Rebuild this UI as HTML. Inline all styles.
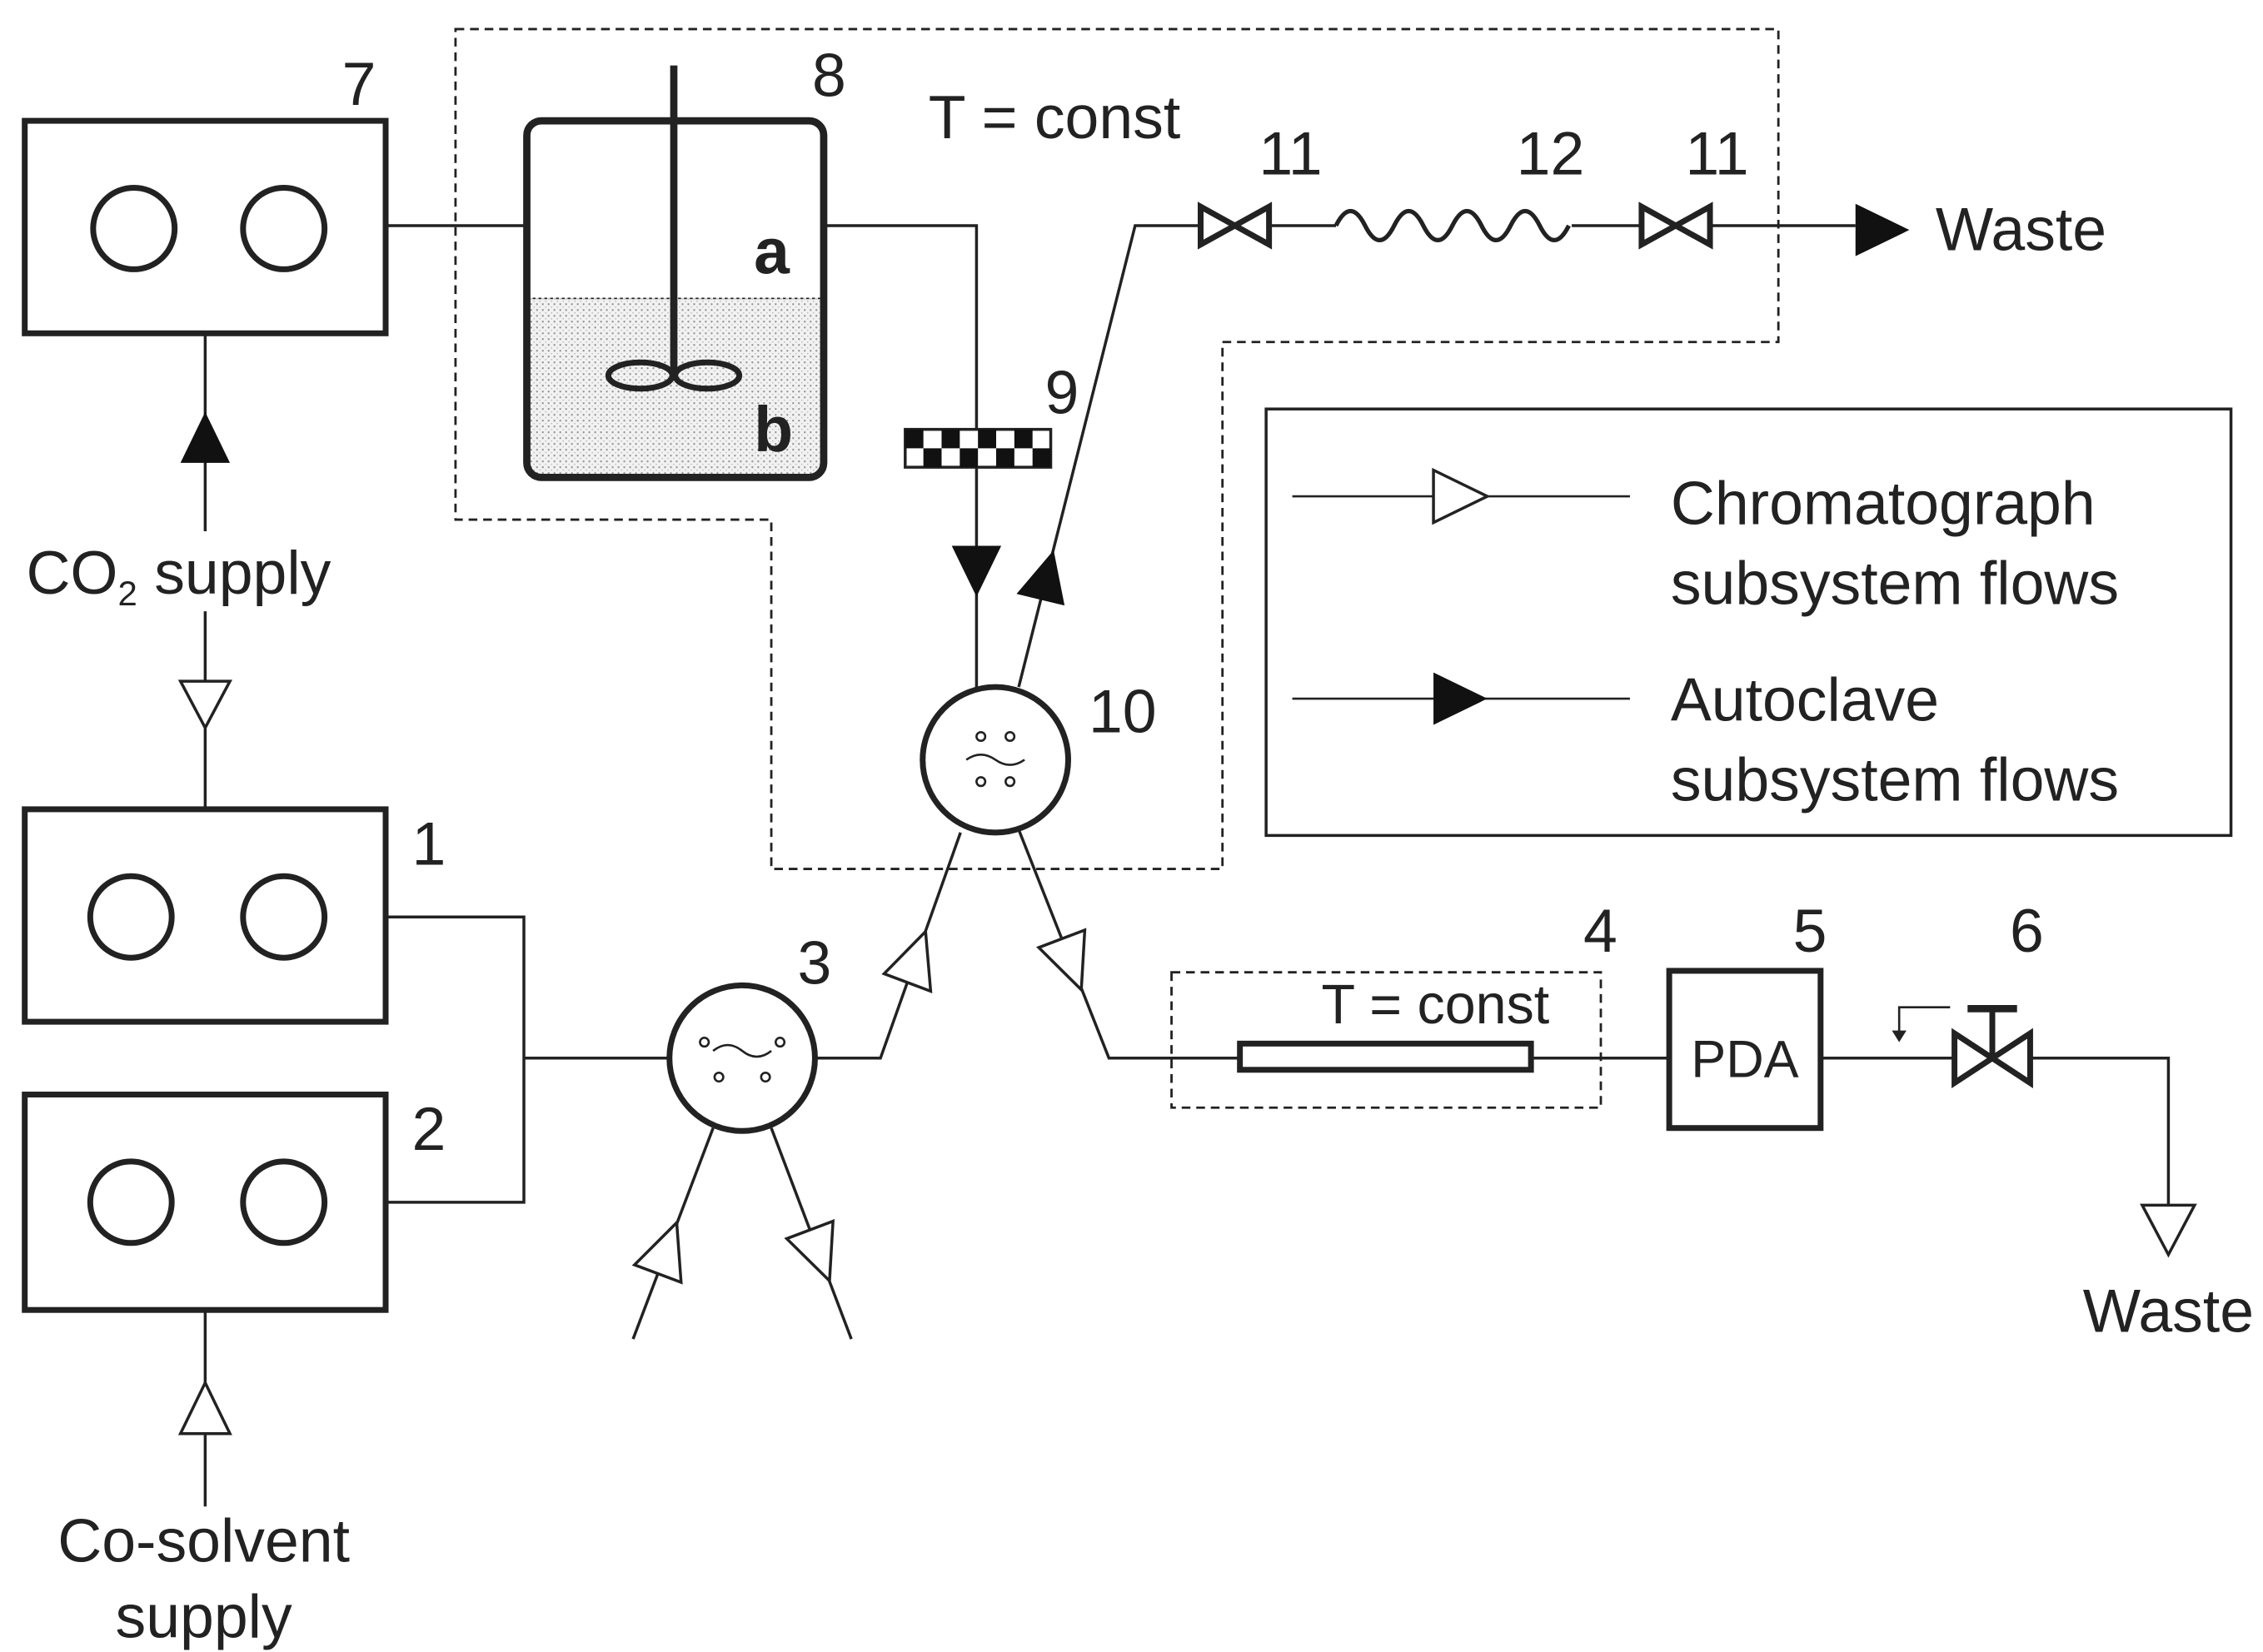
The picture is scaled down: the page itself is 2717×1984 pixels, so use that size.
<!DOCTYPE html>
<html><head><meta charset="utf-8"><style>html,body{margin:0;padding:0;background:#fff}svg{display:block}</style></head>
<body>
<svg width="2717" height="1984" viewBox="0 0 1555 1135" preserveAspectRatio="none" xmlns="http://www.w3.org/2000/svg" font-family="Liberation Sans, sans-serif" fill="none" stroke="#222">
<defs>
<pattern id="dots" width="4" height="4" patternUnits="userSpaceOnUse"><rect width="4" height="4" fill="#f2f2f2" stroke="none"/><circle cx="1" cy="1" r="0.7" fill="#999" stroke="none"/><circle cx="3" cy="3" r="0.5" fill="#bbb" stroke="none"/></pattern>
</defs>
<g stroke-width="2">
<polygon points="313,20 1222,20 1222,235 840,235 840,597 530,597 530,357 313,357" stroke-dasharray="6,4" stroke-width="1.6"/>
<rect x="805" y="668" width="295" height="93" stroke-dasharray="6,4" stroke-width="1.6"/>
<g stroke-width="4">
<rect x="17" y="83" width="248" height="146"/><circle cx="92" cy="157" r="28"/><circle cx="195" cy="157" r="28"/>
<rect x="17" y="556" width="248" height="146"/><circle cx="90" cy="630" r="28"/><circle cx="195" cy="630" r="28"/>
<rect x="17" y="752" width="248" height="148"/><circle cx="90" cy="826" r="28"/><circle cx="195" cy="826" r="28"/>
<circle cx="510" cy="727" r="50"/><circle cx="684" cy="522" r="50"/>
<rect x="1147" y="667" width="104" height="108"/>
<rect x="852" y="717" width="200" height="18" stroke-width="4"/>
</g>
<path d="M362 205 H564 V318 Q564 328 554 328 H372 Q362 328 362 318 Z" fill="url(#dots)" stroke="none"/>
<line x1="362" y1="205" x2="564" y2="205" stroke-width="1" stroke-dasharray="2,2"/>
<rect x="362" y="83" width="204" height="245" rx="10" stroke-width="5"/>
<line x1="463" y1="45" x2="463" y2="258" stroke-width="5"/>
<ellipse cx="440" cy="258" rx="22" ry="9" stroke-width="4"/><ellipse cx="486" cy="258" rx="22" ry="9" stroke-width="4"/>
<line x1="141" y1="229" x2="141" y2="365"/><line x1="141" y1="420" x2="141" y2="556"/>
<line x1="141" y1="900" x2="141" y2="1035"/>
<polyline points="265,630 360,630 360,826 265,826"/><line x1="360" y1="727" x2="460" y2="727"/>
<polyline points="560,727 605,727 660,572"/>
<polyline points="700,570 762,727 852,727"/>
<line x1="1052" y1="727" x2="1147" y2="727"/>
<line x1="1251" y1="727" x2="1342" y2="727"/>
<polyline points="1378,727 1490,727 1490,830"/>
<line x1="490" y1="775" x2="435" y2="920"/><line x1="530" y1="775" x2="585" y2="920"/>
<line x1="265" y1="155" x2="362" y2="155"/>
<polyline points="566,155 671,155 671,472"/>
<polyline points="700,472 780,155 825,155"/>
<line x1="872" y1="155" x2="918" y2="155"/><line x1="1080" y1="155" x2="1128" y2="155"/><line x1="1175" y1="155" x2="1275" y2="155"/>
<path d="M918 155 q10 -20 20 0 t20 0 t20 0 t20 0 t20 0 t20 0 t20 0 t20 0" stroke-width="3"/>
<path d="M825 142 L872 168 L872 142 L825 168 Z" stroke-width="4"/>
<path d="M1128 142 L1175 168 L1175 142 L1128 168 Z" stroke-width="4"/>
<path d="M1343 710 L1395 744 L1395 710 L1343 744 Z" stroke-width="4" fill="#fff"/>
<line x1="1369" y1="727" x2="1369" y2="693" stroke-width="4"/><line x1="1352" y1="693" x2="1386" y2="693" stroke-width="5"/>
<polyline points="1340,692 1305,692 1305,710" stroke-width="1.5"/><path d="M1300 708 L1310 708 L1305 716 Z" fill="#222" stroke="none"/>
<rect x="622" y="295" width="100" height="26" fill="#fff" stroke-width="2"/>
<g fill="#111" stroke="none">
<rect x="622" y="295" width="12.5" height="13"/><rect x="647" y="295" width="12.5" height="13"/><rect x="672" y="295" width="12.5" height="13"/><rect x="697" y="295" width="12.5" height="13"/>
<rect x="634.5" y="308" width="12.5" height="13"/><rect x="659.5" y="308" width="12.5" height="13"/><rect x="684.5" y="308" width="12.5" height="13"/><rect x="709.5" y="308" width="12.5" height="13"/>
</g>
<g stroke-width="1.5">
<circle cx="484" cy="716" r="3"/><circle cx="536" cy="716" r="3"/><circle cx="494" cy="740" r="3"/><circle cx="526" cy="740" r="3"/>
<path d="M490 722 q10 -8 20 0 t20 0"/>
<circle cx="674" cy="506" r="3"/><circle cx="694" cy="506" r="3"/><circle cx="674" cy="537" r="3"/><circle cx="694" cy="537" r="3"/>
<path d="M664 522 q10 -7 20 0 t20 0"/>
</g>
<g fill="#111" stroke="none">
<path d="M141 283 L124 318 L158 318 Z"/>
<path d="M671 410 L654 375 L688 375 Z"/>
<path d="M724 378 L731.5 416 L698.5 408 Z"/>
<path d="M1312 158 L1275 140 L1275 176 Z"/>
</g>
<g fill="#fff">
<path d="M141 500 L124 468 L158 468 Z"/>
<path d="M141 950 L124 985 L158 985 Z"/>
<path d="M636 640 L639.5 681 L607.5 669 Z"/>
<path d="M743 680 L745.4 639 L713.8 651 Z"/>
<path d="M465 840 L468 881 L436 869 Z"/>
<path d="M570 880 L572.4 839 L540.6 851 Z"/>
<path d="M1490 862 L1472 828 L1508 828 Z"/>
</g>
<rect x="870" y="281" width="663" height="293" stroke-width="2"/>
<line x1="888" y1="341" x2="1120" y2="341" stroke-width="1.5"/><path d="M1022 341 L985 323 L985 359 Z" fill="#fff"/>
<line x1="888" y1="480" x2="1120" y2="480" stroke-width="1.5"/>
<path d="M1022 480 L985 462 L985 498 Z" fill="#111" stroke="none"/>
</g>
<g fill="#222" stroke="none" font-size="42">
<text x="235" y="72">7</text><text x="558" y="66">8</text><text x="638" y="95">T = const</text>
<text x="865" y="120">11</text><text x="1042" y="120">12</text><text x="1158" y="120">11</text>
<text x="1330" y="172">Waste</text><text x="718" y="284">9</text><text x="748" y="503">10</text>
<text x="283" y="594">1</text><text x="283" y="790">2</text><text x="548" y="676">3</text>
<text x="1088" y="654">4</text><text x="1232" y="654">5</text><text x="1381" y="654">6</text>
<text x="908" y="703" font-size="38">T = const</text>
<text x="1199" y="740" font-size="36" text-anchor="middle">PDA</text>
<text x="1490" y="915" text-anchor="middle">Waste</text>
<text x="18" y="408">CO<tspan font-size="24" dy="8">2</tspan><tspan dy="-8"> supply</tspan></text>
<text x="140" y="1073" text-anchor="middle">Co-solvent</text><text x="140" y="1125" text-anchor="middle">supply</text>
<text x="518" y="188" font-weight="bold" font-size="44">a</text><text x="518" y="310" font-weight="bold" font-size="44">b</text>
<text x="1148" y="360">Chromatograph</text><text x="1148" y="415">subsystem flows</text>
<text x="1148" y="495">Autoclave</text><text x="1148" y="550">subsystem flows</text>
</g>
</svg>
</body></html>
